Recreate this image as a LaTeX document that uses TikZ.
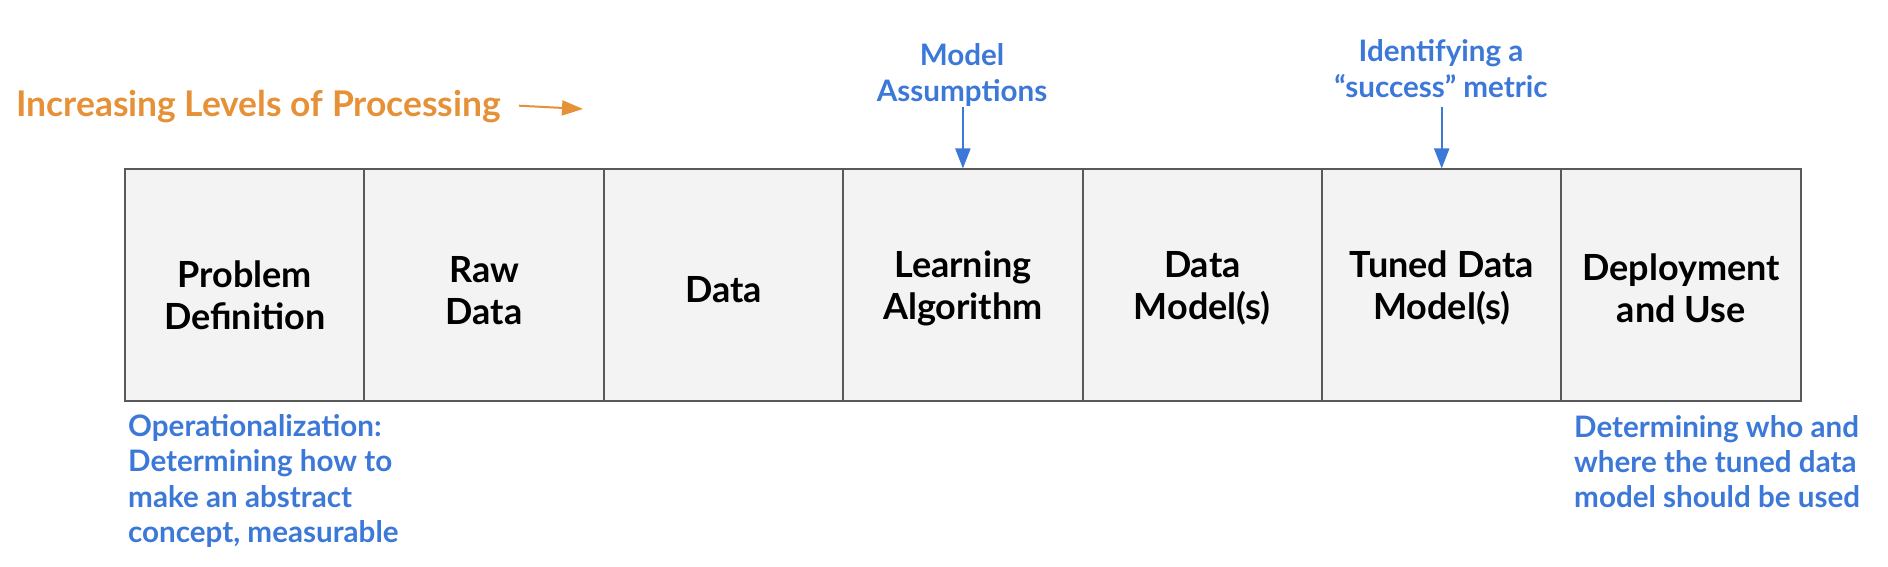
\documentclass[tikz,border=0pt]{standalone}
\usepackage{fontspec}
\setmainfont{Lato}
\usetikzlibrary{arrows.meta,positioning}
\definecolor{cellfill}{HTML}{F3F3F3}
\definecolor{cellline}{HTML}{595959}
\definecolor{noteblue}{HTML}{3C78D8}
\definecolor{orangetxt}{HTML}{E69138}
\tikzset{
  cellbox/.style={draw=cellline, line width=2pt, fill=cellfill, minimum width=239.4pt, minimum height=231.5pt, inner sep=0pt, anchor=north west},
  celltext/.style={align=center, inner sep=0pt, font=\fontsize{36}{41.6}\selectfont\bfseries},
  note/.style={text=noteblue, font=\fontsize{29.6}{35.4}\selectfont\bfseries, inner sep=0pt},
  notearrow/.style={draw=noteblue, line width=2pt, -{Triangle[length=20pt,width=15pt]}},
  orangearrow/.style={draw=orangetxt, line width=2pt, -{Triangle[length=21pt,width=15pt]}}
}
\begin{document}
\begin{tikzpicture}[x=1pt,y=-1pt]
\useasboundingbox (0,0) rectangle (1888,567);
\node[cellbox] (c1) at (124,168.5) {};
\node[cellbox] (c2) at (363.4,168.5) {};
\node[cellbox] (c3) at (602.8,168.5) {};
\node[cellbox] (c4) at (842.2,168.5) {};
\node[cellbox] (c5) at (1081.6,168.5) {};
\node[cellbox] (c6) at (1321.0,168.5) {};
\node[cellbox] (c7) at (1560.4,168.5) {};
\node[celltext] (t1) at ([yshift=-10pt]c1.center) {Problem\\Definition};
\node[celltext] (t2) at ([yshift=-5.5pt]c2.center) {Raw\\Data};
\node[celltext] (t3) at ([yshift=-4pt]c3.center) {Data};
\node[celltext] (t4) at ([yshift=-3pt]c4.center) {Learning\\Algorithm};
\node[celltext] (t5) at ([yshift=-3pt]c5.center) {Data\\Model(s)};
\node[celltext] (t6) at ([yshift=-3pt]c6.center) {Tuned Data\\Model(s)};
\node[celltext] (t7) at ([yshift=-3pt]c7.center) {Deployment\\and Use};
% orange title
\node[text=orangetxt, font=\fontsize{35.4}{42}\selectfont\bfseries, inner sep=0pt, anchor=west] (title) at (16,107) {Increasing Levels of Processing};
\coordinate (oa) at (519,105.7);
\coordinate (ob) at (583,109);
\draw[orangearrow] (oa) -- (ob);
% top notes
\node[note, align=center] (n1) at (962,75) {Model\\Assumptions};
\draw[notearrow] (c4.north |- 0,107) -- (c4.north);
\node[note, align=center] (n2) at (1441,68.5) {Identifying a\\“success” metric};
\draw[notearrow] (c6.north |- 0,107) -- (c6.north);
% bottom notes
\node[note, align=left, anchor=north west] (n3) at (128,414) {Operationalization:\\Determining how to\\make an abstract\\concept, measurable};
\node[note, align=left, anchor=north west] (n4) at (1574,415) {Determining who and\\where the tuned data\\model should be used};
\end{tikzpicture}
\end{document}
